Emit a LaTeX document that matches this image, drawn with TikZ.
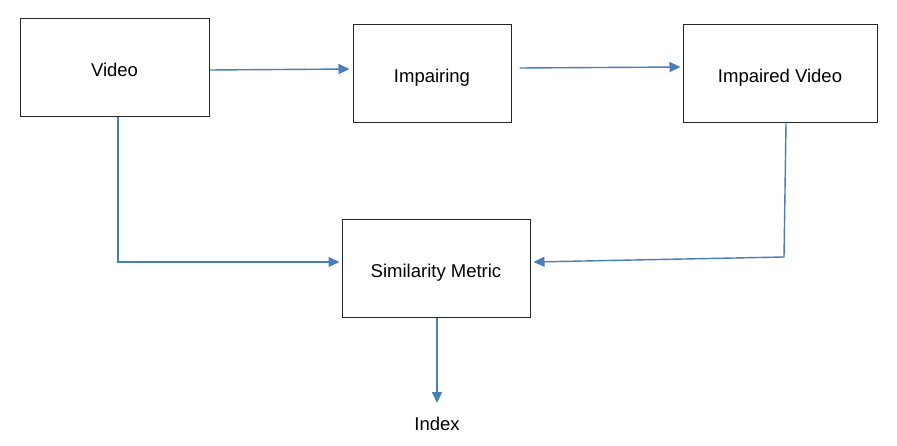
\documentclass[tikz,border=0pt]{standalone}
\usepackage{fontspec}
\setmainfont{Liberation Sans}
\usetikzlibrary{arrows.meta,calc}
\definecolor{arrowblue}{HTML}{4A7EBB}
\begin{document}
\begin{tikzpicture}[x=1pt,y=-1pt,
  box/.style={draw=black!85,line width=1pt,rectangle,minimum height=98pt,inner sep=0pt,text height=18pt,text depth=0pt,font=\fontsize{18.5}{20}\selectfont},
  arr/.style={draw=arrowblue,line width=1.4pt,-{Triangle[length=11pt,width=10pt]}},
  lbl/.style={font=\fontsize{18.5}{20}\selectfont,inner sep=0pt}]
\useasboundingbox[fill=white] (0,0) rectangle (897,446);
\node[box,minimum width=189pt] (v) at (114.5,68) {Video};
\node[box,minimum width=158pt] (imp) at (432,74) {Impairing};
\node[box,minimum width=194pt] (iv) at (780,74) {Impaired Video};
\node[box,minimum width=188pt] (sm) at (436,269) {Similarity Metric};
\node[lbl] (idx) at (437,424) {Index};
\coordinate (c1) at (784,257);
\draw[arr] (v.east |- 0,70) -- ($(imp.west |- 0,69)+(-3,0)$);
\draw[arr] ($(imp.east |- 0,68)+(8,0)$) -- ($(iv.west |- 0,67)+(-2,0)$);
\draw[arr] (v.south -| 118,0) |- ($(sm.west |- 0,262)+(-2,0)$);
\draw[arr] (iv.south -| 786,0) -- (c1) -- ($(sm.east |- 0,262)+(3,0)$);
\draw[arr] (sm.south -| 437,0) -- ($(idx.north)+(0,-14)$);
\end{tikzpicture}
\end{document}
